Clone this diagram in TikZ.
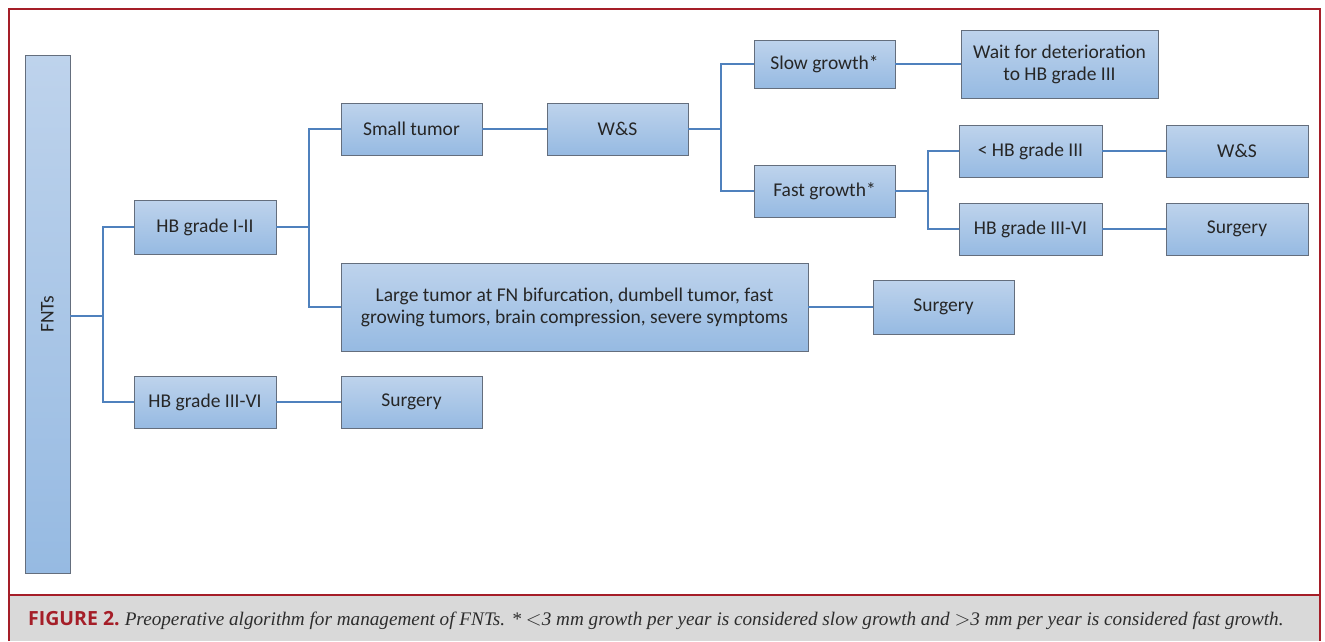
\documentclass[tikz,border=0pt]{standalone}
\usepackage{fontspec}
\setmainfont{Liberation Serif}
\newfontfamily\boxfont{Carlito}
\newfontfamily\capsans{Open Sans}
\usetikzlibrary{shadows}
\definecolor{frame}{RGB}{165,30,40}
\definecolor{linec}{RGB}{79,129,189}
\definecolor{boxtop}{RGB}{190,211,236}
\definecolor{boxbot}{RGB}{150,186,226}
\definecolor{boxdraw}{RGB}{100,110,125}
\definecolor{capbg}{RGB}{217,217,217}
\definecolor{captext}{RGB}{45,45,45}
\tikzset{
  bx/.style={draw=boxdraw, line width=0.9pt, top color=boxtop, bottom color=boxbot,
    drop shadow={shadow xshift=1.2pt, shadow yshift=-1.2pt, opacity=0.35},
    font=\boxfont\fontsize{19.5}{22}\selectfont, text=black!85, align=center, inner sep=0pt},
  ln/.style={draw=linec, line width=2pt},
}
\newcommand{\bxat}[6]{\node[bx, minimum width=#4-#2, minimum height=#5-#3] (#1) at ({(#2+#4)/2},{(#3+#5)/2}) {#6};}
\begin{document}
\begin{tikzpicture}[x=1pt,y=-1pt]
\useasboundingbox (0,0) rectangle (1325,641);
\fill[white] (0,0) rectangle (1325,641);
\fill[capbg] (9,595) rectangle (1320,641);
\draw[frame, line width=1.5pt] (9,641) -- (9,9) -- (1320,9) -- (1320,641);
\draw[frame, line width=1.2pt] (9,595) -- (1320,595);
\node[anchor=west, inner sep=0pt, text=captext] (cap) at (28,620) {{\capsans\bfseries\fontsize{19.5}{22}\selectfont\color{frame}FIGURE 2.}\enspace\fontsize{19.2}{22}\selectfont\itshape Preoperative algorithm for management of FNTs. * $<$3 mm growth per year is considered slow growth and $>$3 mm per year is considered fast growth.};
\node[bx, minimum width=45pt, minimum height=518pt] (fnt) at (47.5,314) {\rotatebox{90}{FNTs}};
\bxat{hb12}{134}{200}{276}{254}{HB grade I-II}
\bxat{hb36}{134}{376}{276}{428}{HB grade III-VI}
\bxat{small}{341}{103}{482}{155}{Small tumor}
\bxat{ws1}{547}{103}{688}{155}{W\&S}
\bxat{slow}{754}{40}{895}{88}{Slow growth*}
\bxat{wait}{961}{30}{1158}{98}{Wait for deterioration\\to HB grade III}
\bxat{fast}{754}{165}{895}{217}{Fast growth*}
\bxat{lt3}{959}{125}{1102}{177}{< HB grade III}
\bxat{ws2}{1166}{125}{1308}{177}{W\&S}
\bxat{hb36b}{959}{203}{1102}{255}{HB grade III-VI}
\bxat{surg2}{1166}{203}{1308}{255}{Surgery}
\bxat{large}{341}{263}{808}{351}{Large tumor at FN bifurcation, dumbell tumor, fast\\growing tumors, brain compression, severe symptoms}
\bxat{surg1}{873}{280}{1014}{334}{Surgery}
\bxat{surg0}{341}{376}{482}{428}{Surgery}
\coordinate (j1) at (103,316);
\coordinate (j2) at (309,227);
\coordinate (j3) at (721,129);
\coordinate (j4) at (928,191);
\draw[ln] (fnt.east |- j1) -- (j1);
\draw[ln] (hb12.west) -| (j1) |- (hb36.west);
\draw[ln] (hb12.east) -- (j2);
\draw[ln] (small.west) -| (j2) |- (large.west);
\draw[ln] (small) -- (ws1);
\draw[ln] (ws1.east) -- (j3);
\draw[ln] (slow.west) -| (j3) |- (fast.west);
\draw[ln] (slow) -- (wait.west |- slow);
\draw[ln] (fast.east) -- (j4);
\draw[ln] (lt3.west) -| (j4) |- (hb36b.west);
\draw[ln] (lt3) -- (ws2);
\draw[ln] (hb36b) -- (surg2);
\draw[ln] (large) -- (surg1);
\draw[ln] (hb36) -- (surg0);
\end{tikzpicture}
\end{document}
